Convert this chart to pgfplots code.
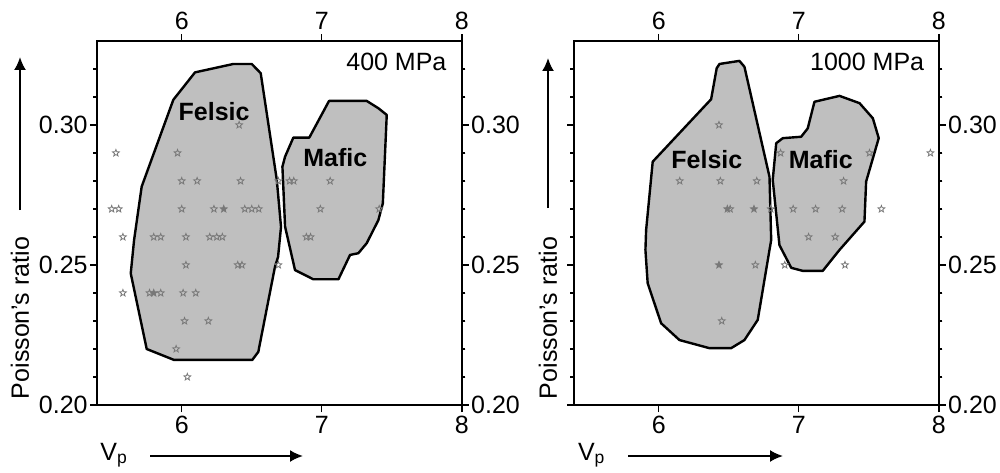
\documentclass[border=0pt]{standalone}
\usepackage{fontspec}
\setmainfont{Liberation Sans}
\usepackage{pgfplots}
\pgfplotsset{compat=1.18}
\usetikzlibrary{arrows.meta}

\pgfdeclareplotmark{ostar}{%
  \pgfpathmoveto{\pgfpointpolar{90}{\pgfplotmarksize}}%
  \pgfpathlineto{\pgfpointpolar{126}{0.42\pgfplotmarksize}}%
  \pgfpathlineto{\pgfpointpolar{162}{\pgfplotmarksize}}%
  \pgfpathlineto{\pgfpointpolar{198}{0.42\pgfplotmarksize}}%
  \pgfpathlineto{\pgfpointpolar{234}{\pgfplotmarksize}}%
  \pgfpathlineto{\pgfpointpolar{270}{0.42\pgfplotmarksize}}%
  \pgfpathlineto{\pgfpointpolar{306}{\pgfplotmarksize}}%
  \pgfpathlineto{\pgfpointpolar{342}{0.42\pgfplotmarksize}}%
  \pgfpathlineto{\pgfpointpolar{18}{\pgfplotmarksize}}%
  \pgfpathlineto{\pgfpointpolar{54}{0.42\pgfplotmarksize}}%
  \pgfpathclose
  \pgfusepathqstroke
}
\pgfdeclareplotmark{fstar}{%
  \pgfpathmoveto{\pgfpointpolar{90}{\pgfplotmarksize}}%
  \pgfpathlineto{\pgfpointpolar{126}{0.42\pgfplotmarksize}}%
  \pgfpathlineto{\pgfpointpolar{162}{\pgfplotmarksize}}%
  \pgfpathlineto{\pgfpointpolar{198}{0.42\pgfplotmarksize}}%
  \pgfpathlineto{\pgfpointpolar{234}{\pgfplotmarksize}}%
  \pgfpathlineto{\pgfpointpolar{270}{0.42\pgfplotmarksize}}%
  \pgfpathlineto{\pgfpointpolar{306}{\pgfplotmarksize}}%
  \pgfpathlineto{\pgfpointpolar{342}{0.42\pgfplotmarksize}}%
  \pgfpathlineto{\pgfpointpolar{18}{\pgfplotmarksize}}%
  \pgfpathlineto{\pgfpointpolar{54}{0.42\pgfplotmarksize}}%
  \pgfpathclose
  \pgfusepathqfillstroke
}

\definecolor{polyfill}{RGB}{191,191,191}
\definecolor{stargray}{RGB}{120,120,120}

\pgfplotsset{
  panel/.style={
    scale only axis, width=182.4pt, height=182pt,
    anchor=south west,
    xmin=5.395, xmax=8, ymin=0.20, ymax=0.33,
    xtick={6,7,8}, xticklabels={6,7,8},
    ytick={0.20,0.25,0.30}, yticklabels={0.20,0.25,0.30},
    minor ytick={0.21,0.22,0.23,0.24,0.26,0.27,0.28,0.29,0.31,0.32},
    tick align=outside, major tick length=3.5pt, minor tick length=1.8pt,
    every tick/.style={black, line width=0.7pt},
    axis line style={line width=0.8pt},
    tick label style={font=\fontsize{12.5}{15}\selectfont},
    xticklabel style={inner sep=2pt},
    yticklabel style={inner sep=1pt},
  },
  poly/.style={draw=black, line width=1.2pt, fill=polyfill, line join=round},
  ostars/.style={only marks, mark=ostar, mark size=1.8pt, mark options={draw=stargray, line width=0.4pt}},
  fstars/.style={only marks, mark=fstar, mark size=1.8pt, mark options={draw=stargray, fill=stargray, line width=0.4pt}},
}

\begin{document}
\begin{tikzpicture}[font=\fontsize{12.5}{15}\selectfont]
\useasboundingbox (0,0) rectangle (500pt,236pt);

% ---------- left panel: 400 MPa ----------
\begin{axis}[panel, at={(48.5pt,33.5pt)}, xticklabel pos=lower, yticklabel pos=left]
\addplot[poly] coordinates {(6.095,0.3188) (6.369,0.3218) (6.50,0.3218) (6.564,0.3185) (6.679,0.2804) (6.709,0.2636) (6.688,0.2529) (6.666,0.2494) (6.547,0.2190) (6.504,0.2161) (5.945,0.2161) (5.75,0.2200) (5.636,0.247) (5.66,0.259) (5.714,0.278) (5.94,0.309)} -- cycle;
\addplot[poly] coordinates {(7.052,0.3086) (7.321,0.3086) (7.404,0.306) (7.464,0.3036) (7.436,0.272) (7.404,0.266) (7.321,0.2578) (7.261,0.2542) (7.202,0.2536) (7.119,0.2449) (6.94,0.2449) (6.809,0.2482) (6.738,0.2637) (6.719,0.2851) (6.738,0.2887) (6.797,0.2955) (6.911,0.2955)} -- cycle;
\addplot[ostars] coordinates {
(6.41,0.30)
(5.53,0.29) (5.97,0.29)
(6.00,0.28) (6.11,0.28) (6.42,0.28) (6.69,0.28) (6.77,0.28) (6.80,0.28) (7.06,0.28)
(5.50,0.27) (5.55,0.27) (6.00,0.27) (6.23,0.27) (6.45,0.27) (6.50,0.27) (6.55,0.27) (6.99,0.27) (7.41,0.27)
(5.58,0.26) (5.80,0.26) (5.85,0.26) (6.03,0.26) (6.20,0.26) (6.25,0.26) (6.29,0.26) (6.89,0.26) (6.92,0.26)
(6.03,0.25) (6.40,0.25) (6.43,0.25) (6.69,0.25)
(5.58,0.24) (5.77,0.24) (5.85,0.24) (6.01,0.24) (6.10,0.24)
(6.02,0.23) (6.19,0.23)
(5.96,0.22)
(6.04,0.21)};
\addplot[fstars] coordinates {(6.30,0.27) (5.80,0.24)};
\node[anchor=base, font=\fontsize{12.5}{15}\selectfont\bfseries] at (axis cs:6.231,0.3015) {Felsic};
\node[anchor=base, font=\fontsize{12.5}{15}\selectfont\bfseries] at (axis cs:7.097,0.2851) {Mafic};
\node[anchor=base east, inner sep=0pt] at (axis cs:7.893,0.3196) {400 MPa};
\end{axis}
\begin{axis}[panel, at={(48.5pt,33.5pt)}, xticklabel pos=upper, yticklabel pos=right]
\end{axis}

% ---------- right panel: 1000 MPa ----------
\begin{axis}[panel, at={(287pt,33.5pt)}, xticklabel pos=lower, yticklabel pos=right]
\addplot[poly] coordinates {(6.414,0.3203) (6.434,0.3218) (6.576,0.3229) (6.612,0.3208) (6.791,0.2815) (6.803,0.2589) (6.791,0.2554) (6.707,0.2304) (6.612,0.2232) (6.517,0.2203) (6.362,0.2203) (6.148,0.2232) (6.017,0.2292) (5.921,0.2435) (5.905,0.2554) (5.91,0.2625) (5.957,0.2869) (6.374,0.3092)} -- cycle;
\addplot[poly] coordinates {(7.112,0.3083) (7.291,0.3104) (7.434,0.3078) (7.529,0.3024) (7.571,0.2953) (7.481,0.2798) (7.469,0.2655) (7.291,0.2554) (7.171,0.2479) (7.029,0.2479) (6.946,0.249) (6.862,0.2571) (6.814,0.2804) (6.839,0.2935) (6.886,0.2953) (7.017,0.2958) (7.064,0.2988)} -- cycle;
\addplot[ostars] coordinates {
(6.43,0.30)
(6.87,0.29) (7.505,0.29) (7.94,0.29)
(6.15,0.28) (6.44,0.28) (6.70,0.28) (7.32,0.28)
(6.51,0.27) (6.80,0.27) (6.96,0.27) (7.12,0.27) (7.31,0.27) (7.59,0.27)
(7.07,0.26) (7.26,0.26)
(6.69,0.25) (6.90,0.25) (7.33,0.25)
(6.45,0.23)};
\addplot[fstars] coordinates {(6.49,0.27) (6.68,0.27) (6.43,0.25)};
\node[anchor=base, font=\fontsize{12.5}{15}\selectfont\bfseries] at (axis cs:6.344,0.2845) {Felsic};
\node[anchor=base, font=\fontsize{12.5}{15}\selectfont\bfseries] at (axis cs:7.157,0.2845) {Mafic};
\node[anchor=base east, inner sep=0pt] at (axis cs:7.898,0.3196) {1000 MPa};
\end{axis}
\begin{axis}[panel, at={(287pt,33.5pt)}, xticklabel pos=upper, yticklabels={}]
\end{axis}

% ---------- axis titles with arrows ----------
\node[rotate=90] at (10pt,77pt) {Poisson's ratio};
\draw[-{Latex[length=6.5pt,width=6pt]}, line width=1pt] (10pt,131pt) -- (10pt,207.5pt);
\node[rotate=90] at (274pt,77pt) {Poisson's ratio};
\draw[-{Latex[length=6.5pt,width=6pt]}, line width=1pt] (274pt,132pt) -- (274pt,207pt);

\node[anchor=base west, inner sep=0pt] at (50pt,6pt) {V\textsubscript{p}};
\draw[-{Latex[length=6.5pt,width=6pt]}, line width=1pt] (75pt,8pt) -- (151.5pt,8pt);
\node[anchor=base west, inner sep=0pt] at (288.8pt,6pt) {V\textsubscript{p}};
\draw[-{Latex[length=6.5pt,width=6pt]}, line width=1pt] (314pt,8pt) -- (391.5pt,8pt);
\end{tikzpicture}
\end{document}
